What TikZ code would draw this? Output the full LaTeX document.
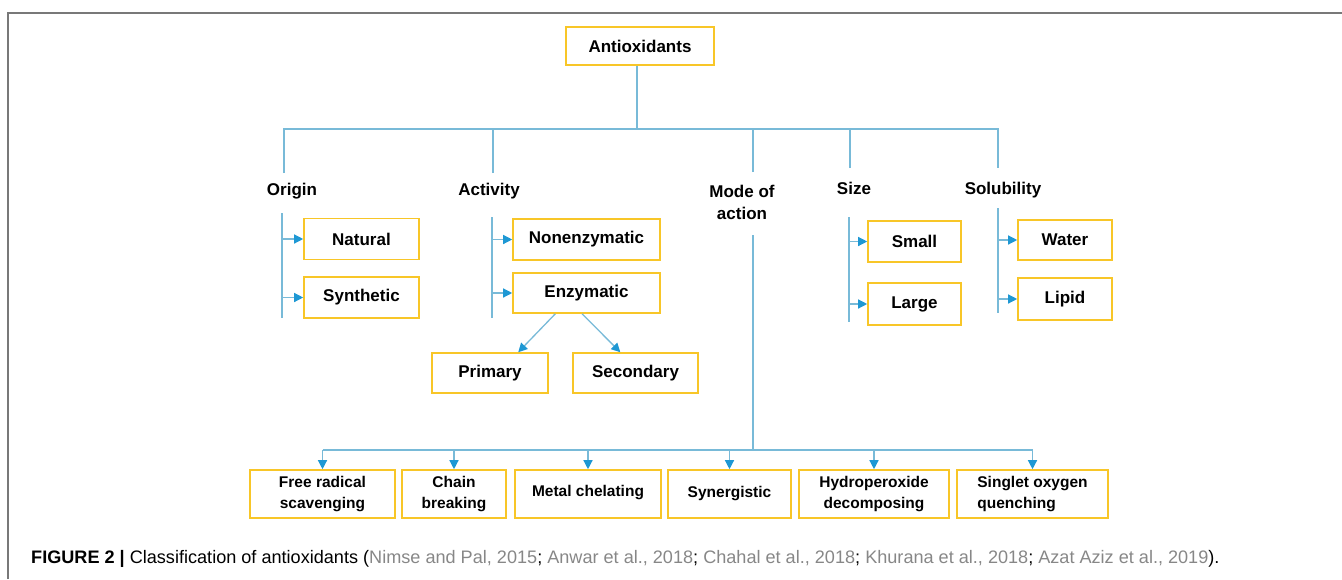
\documentclass[tikz,border=0pt]{standalone}
\usepackage{fontspec}
\setmainfont{Liberation Sans}
\usetikzlibrary{calc,arrows.meta}
\definecolor{mycolor1}{RGB}{248,198,40}
\definecolor{mycolor2}{RGB}{120,186,216}
\definecolor{mycolor3}{RGB}{30,152,212}
\definecolor{mycolor4}{RGB}{120,120,120}
\definecolor{mycolor5}{RGB}{135,135,135}

\begin{document}
\begin{tikzpicture}[x=1pt,y=-1pt,
    box/.style={draw=mycolor1,line width=1.6pt,fill=white,inner sep=2pt,align=center,
        minimum height=41pt,font=\fontsize{17}{21}\selectfont\bfseries},
    lowbox/.style={box,minimum height=48pt,font=\fontsize{15.5}{21}\selectfont\bfseries},
    cat/.style={inner sep=1pt,align=center,font=\fontsize{17}{22}\selectfont\bfseries},
    link/.style={draw=mycolor2,line width=1.3pt},
    arr/.style={link,-{Triangle[length=9pt,width=9pt,color=mycolor3]}}]

    \useasboundingbox (0,0) rectangle (1342,579);

    % Frame
    \draw[mycolor4,line width=2pt] (8,579) -- (8,13) -- (1342,13);

    % Root
    \node[box,minimum width=148pt,minimum height=38pt] at (640,46) (Antiox) {Antioxidants};

    % Categories
    \node[cat] at (292,191) (Origin) {Origin};
    \node[cat] at (489,191) (Activity) {Activity};
    \node[cat] at (742,202) (Mode) {Mode of\\action};
    \node[cat] at (854,188) (Size) {Size};
    \node[cat] at (1003,190) (Solub) {Solubility};

    \coordinate (Bus) at (637,129);
    \draw[link] (Antiox.south -| Bus) -- (Bus);
    \draw[link] (284,173) |- (Bus) -| (998,168);
    \coordinate (OriginTop) at (284,173);
    \coordinate (ActTop) at (493,173);
    \coordinate (ModeTop) at (753,172);
    \coordinate (SizeTop) at (850,168);
    \draw[link] (ActTop) -- (ActTop |- Bus);
    \draw[link] (ModeTop) -- (ModeTop |- Bus);
    \draw[link] (SizeTop) -- (SizeTop |- Bus);

    % Origin
    \node[box,minimum width=115pt] at (361.5,239) (Natural) {Natural};
    \node[box,minimum width=115pt] at (361.5,297.5) (Synth) {Synthetic};
    \draw[link] (282,213) -- (282,318);
    \draw[arr] (282,0 |- Natural.west) -- (Natural.west);
    \draw[arr] (282,0 |- Synth.west) -- (Synth.west);

    % Activity
    \node[box,minimum width=147pt] at (586.5,239.5) (Nonenz) {Nonenzymatic};
    \node[box,minimum width=147pt,minimum height=40pt] at (586.5,293) (Enz) {Enzymatic};
    \node[box,minimum width=116pt,minimum height=40pt] at (490,373) (Primary) {Primary};
    \node[box,minimum width=125pt,minimum height=40pt] at (635.5,373) (Second) {Secondary};
    \draw[link] (492,217) -- (492,318);
    \draw[arr] (492,0 |- Nonenz.west) -- (Nonenz.west);
    \draw[arr] (492,0 |- Enz.west) -- (Enz.west);
    \draw[arr] ($(Enz.south west)!0.29!(Enz.south east)$) -- ($(Primary.north west)!0.74!(Primary.north east)$);
    \draw[arr] ($(Enz.south west)!0.47!(Enz.south east)$) -- ($(Second.north west)!0.38!(Second.north east)$);

    % Size
    \node[box,minimum width=93pt] at (914.5,241.5) (Small) {Small};
    \node[box,minimum width=93pt,minimum height=42pt] at (914.5,304) (Large) {Large};
    \draw[link] (849,217) -- (849,322);
    \draw[arr] (849,0 |- Small.west) -- (Small.west);
    \draw[arr] (849,0 |- Large.west) -- (Large.west);

    % Solubility
    \node[box,minimum width=94pt,minimum height=40pt] at (1065,240) (Water) {Water};
    \node[box,minimum width=94pt,minimum height=42pt] at (1065,299) (Lipid) {Lipid};
    \draw[link] (998,208) -- (998,313);
    \draw[arr] (998,0 |- Water.west) -- (Water.west);
    \draw[arr] (998,0 |- Lipid.west) -- (Lipid.west);

    % Mode of action
    \node[lowbox,minimum width=145pt] at (322.5,494) (Free) {Free radical\\scavenging};
    \node[lowbox,minimum width=104pt] at (454,494) (Chain) {Chain\\breaking};
    \node[lowbox,minimum width=146pt] at (588,494) (Metal) {\raisebox{6pt}{Metal chelating}};
    \node[lowbox,minimum width=123pt] at (729.5,494) (Syner) {Synergistic};
    \node[lowbox,minimum width=150pt] at (874,494) (Hydro) {Hydroperoxide\\decomposing};
    \node[lowbox,minimum width=151pt,align=left] at (1032.5,494) (Singlet) {Singlet oxygen\\quenching};

    \coordinate (MBus) at (753,450);
    \draw[link] (753,235) -- (MBus);
    \draw[link] (Free.north |- MBus) -- (Singlet.north |- MBus);
    \foreach \n in {Free,Chain,Metal,Syner,Hydro,Singlet}
        \draw[arr] (\n.north |- MBus) -- (\n.north);

    % Caption
    \node[anchor=west,inner sep=0pt,font=\fontsize{18.1}{20}\selectfont] at (31,559) (Caption)
        {\textbf{FIGURE 2 |} Classification of antioxidants ({\color{mycolor5}Nimse and Pal, 2015}; {\color{mycolor5}Anwar et al., 2018}; {\color{mycolor5}Chahal et al., 2018}; {\color{mycolor5}Khurana et al., 2018}; {\color{mycolor5}Azat Aziz et al., 2019}).};

\end{tikzpicture}
\end{document}
